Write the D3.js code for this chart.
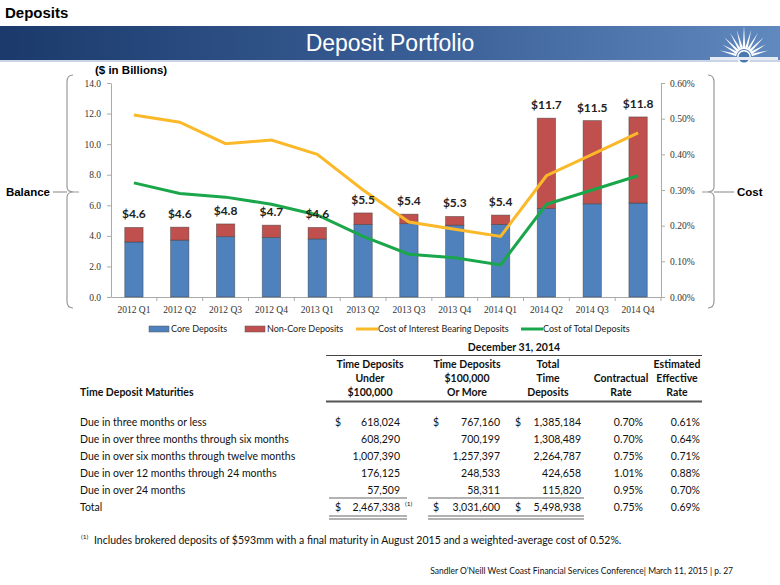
<!DOCTYPE html>
<html>
<head>
<meta charset="utf-8">
<script src="https://cdn.jsdelivr.net/npm/d3@7"></script>
<style>
  body { margin: 0; background: #fff; }
  svg { display: block; }
  .axis text { font-family: "Liberation Serif", serif; font-size: 9.5px; fill: #333; }
  .axis path, .axis line { stroke: #aaa; }
  .tbl { font-family: Lato, "Open Sans", sans-serif; font-size: 10.5px; fill: #111; }
</style>
</head>
<body>
<div id="chart"></div>
<script>
// chart data
const quarters = ["2012 Q1", "2012 Q2", "2012 Q3", "2012 Q4", "2013 Q1", "2013 Q2",
                  "2013 Q3", "2013 Q4", "2014 Q1", "2014 Q2", "2014 Q3", "2014 Q4"];
const coreDeposits    = [3.6, 3.72, 3.95, 3.9, 3.8, 4.75, 4.8, 4.7, 4.75, 5.8, 6.1, 6.15];
const nonCoreDeposits = [0.95, 0.85, 0.83, 0.8, 0.75, 0.75, 0.62, 0.57, 0.61, 5.9, 5.44, 5.63];
const balanceLabels = ["$4.6", "$4.6", "$4.8", "$4.7", "$4.6", "$5.5", "$5.4", "$5.3", "$5.4", "$11.7", "$11.5", "$11.8"];
const costInterestBearing = [0.51, 0.49, 0.43, 0.44, 0.40, 0.30, 0.21, 0.19, 0.17, 0.34, 0.40, 0.46];
const costTotal = [0.32, 0.29, 0.28, 0.26, 0.23, 0.17, 0.12, 0.11, 0.09, 0.26, 0.30, 0.34];
const balanceTicks = [0, 2, 4, 6, 8, 10, 12, 14];
const costTicks = [0, 0.1, 0.2, 0.3, 0.4, 0.5, 0.6];

// table data
const maturityLabels = ["Due in three months or less", "Due in over three months through six months",
  "Due in over six months through twelve months", "Due in over 12 months through 24 months", "Due in over 24 months"];
const under100k = [618024, 608290, 1007390, 176125, 57509];
const over100k = [767160, 700199, 1257397, 248533, 58311];
const totalTime = [1385184, 1308489, 2264787, 424658, 115820];
const contractualRate = [0.70, 0.70, 0.75, 1.01, 0.95];
const effectiveRate = [0.61, 0.64, 0.71, 0.88, 0.70];
const totalRow = [2467338, 3031600, 5498938, 0.75, 0.69];

const width = 780, height = 585;
const margins = { top: 83, bottom: 288, left: 111, right: 119 };
const colors = { core: "#4f81bd", nonCore: "#c0504d", ib: "#fbb829", total: "#1aa64a" };

const svg = d3.select("#chart").append("svg")
  .attr("width", width)
  .attr("height", height);

// header + banner
svg.append("text")
  .attr("x", 5).attr("y", 18)
  .style("font-family", "'Liberation Sans', Arial, sans-serif")
  .style("font-size", "15px").style("font-weight", "bold")
  .text("Deposits");

const grad = svg.append("defs").append("linearGradient").attr("id", "banner");
grad.append("stop").attr("offset", "0%").attr("stop-color", "#1b3a6b");
grad.append("stop").attr("offset", "55%").attr("stop-color", "#3a5f97");
grad.append("stop").attr("offset", "100%").attr("stop-color", "#6089bf");

svg.append("rect").attr("x", 0).attr("y", 26).attr("width", width).attr("height", 35).attr("fill", "url(#banner)");
svg.append("rect").attr("x", 0).attr("y", 60).attr("width", width).attr("height", 2).attr("fill", "#c9d5e6");

svg.append("text")
  .attr("x", 390).attr("y", 51)
  .attr("text-anchor", "middle")
  .style("font-family", "'Liberation Sans', Arial, sans-serif")
  .style("font-size", "23px").attr("fill", "#fff")
  .text("Deposit Portfolio");

// sunburst logo
const logo = svg.append("g").attr("transform", "translate(744,57)");
const rays = d3.range(11).map(i => -165 + i * 15);
logo.selectAll("path.ray")
  .data(rays)
  .join("path")
  .attr("class", "ray")
  .attr("fill", "#fff")
  .attr("d", a => {
    const r = Math.abs(a + 90) < 10 ? 31 : (Math.abs(a + 90) < 50 ? 28 : 25);
    const t = a * Math.PI / 180, w = 0.17;
    return `M${Math.cos(t - w) * 8},${Math.sin(t - w) * 8} L${Math.cos(t) * r},${Math.sin(t) * r} L${Math.cos(t + w) * 8},${Math.sin(t + w) * 8}Z`;
  });
logo.append("circle").attr("r", 7).attr("fill", "#fff");
logo.append("circle").attr("r", 5.5).attr("fill", "#4c76ae");
logo.append("rect").attr("x", -34).attr("y", 0).attr("width", 68).attr("height", 3).attr("fill", "#e4ebf4");

// chart
const x = d3.scaleBand()
  .domain(quarters)
  .range([margins.left, width - margins.right])
  .paddingInner(0.6)
  .paddingOuter(0.3);

const xOuter = d3.scaleBand().domain(quarters).range(x.range());

const yLeft = d3.scaleLinear().domain([0, 14]).range([height - margins.bottom, margins.top]);
const yRight = d3.scaleLinear().domain([0, 0.6]).range([height - margins.bottom, margins.top]);

const xAxisG = svg.append("g")
  .attr("class", "axis x-axis")
  .attr("transform", `translate(0,${yLeft(0)})`)
  .call(d3.axisBottom(xOuter).tickSize(0).tickPadding(9));
xAxisG.selectAll(".tick").filter((d, i) => i > 0).append("line")
  .attr("x1", -xOuter.bandwidth() / 2).attr("x2", -xOuter.bandwidth() / 2)
  .attr("y1", 0).attr("y2", 4);
xAxisG.append("line").attr("x1", xOuter.range()[1]).attr("x2", xOuter.range()[1]).attr("y1", 0).attr("y2", 4);

svg.append("g")
  .attr("class", "axis y-axis")
  .attr("transform", `translate(${margins.left},0)`)
  .call(d3.axisLeft(yLeft).tickValues(balanceTicks).tickSize(4).tickSizeOuter(0).tickPadding(6).tickFormat(d3.format(".1f")));

svg.append("g")
  .attr("class", "axis y-axis-right")
  .attr("transform", `translate(${xOuter.range()[1]},0)`)
  .call(d3.axisRight(yRight).tickValues(costTicks).tickSize(4).tickSizeOuter(0).tickPadding(5).tickFormat(d => d3.format(".2f")(d) + "%"));

const stackData = quarters.map((q, i) => ({ q, core: coreDeposits[i], nonCore: nonCoreDeposits[i] }));
const series = d3.stack().keys(["core", "nonCore"])(stackData);

svg.append("g").attr("class", "bars-container")
  .selectAll("g")
  .data(series)
  .join("g")
  .attr("fill", d => colors[d.key])
  .selectAll("rect")
  .data(d => d)
  .join("rect")
  .attr("x", d => x(d.data.q))
  .attr("y", d => yLeft(d[1]))
  .attr("height", d => yLeft(d[0]) - yLeft(d[1]))
  .attr("width", x.bandwidth())
  .attr("stroke", "#3b3b3b")
  .attr("stroke-opacity", 0.55)
  .attr("stroke-width", 0.8);

const line = d3.line()
  .x((d, i) => xOuter(quarters[i]) + xOuter.bandwidth() / 2)
  .y(d => yRight(d));

svg.append("path").datum(costInterestBearing)
  .attr("fill", "none").attr("stroke", colors.ib).attr("stroke-width", 3)
  .attr("d", line);
svg.append("path").datum(costTotal)
  .attr("fill", "none").attr("stroke", colors.total).attr("stroke-width", 3)
  .attr("d", line);

svg.append("g").selectAll("text")
  .data(stackData)
  .join("text")
  .attr("x", d => x(d.q) + x.bandwidth() / 2)
  .attr("y", d => yLeft(d.core + d.nonCore) - 9)
  .attr("text-anchor", "middle")
  .style("font-family", "Lato, sans-serif")
  .style("font-size", "12px").style("font-weight", "bold")
  .attr("fill", "#222")
  .text((d, i) => balanceLabels[i]);

// axis titles + braces
const boldArial = sel => sel.style("font-family", "'Liberation Sans', Arial, sans-serif").style("font-weight", "bold").style("font-size", "11.5px");
svg.append("text").attr("x", 95).attr("y", 74).call(boldArial).text("($ in Billions)");
svg.append("text").attr("x", 50).attr("y", 196).attr("text-anchor", "end").call(boldArial).text("Balance");
svg.append("text").attr("x", 737).attr("y", 196).call(boldArial).text("Cost");

const brace = (x0, dir) => {
  const xm = x0 + dir * 6, cy = 192;
  return `M${x0},75 Q${xm},75 ${xm},82 L${xm},${cy - 5} Q${xm},${cy} ${x0 - dir * 1},${cy} L${x0 - dir * 6},${cy}` +
    ` M${x0 - dir * 1},${cy} Q${xm},${cy} ${xm},${cy + 5} L${xm},301 Q${xm},308 ${x0},308`;
};
svg.append("path").attr("d", brace(73, -1)).attr("fill", "none").attr("stroke", "#999").attr("stroke-width", 1.2);
svg.append("path").attr("d", brace(708, 1)).attr("fill", "none").attr("stroke", "#999").attr("stroke-width", 1.2);
svg.append("line").attr("x1", 53).attr("x2", 67).attr("y1", 192).attr("y2", 192).attr("stroke", "#999").attr("stroke-width", 1.2);
svg.append("line").attr("x1", 714).attr("x2", 734).attr("y1", 192).attr("y2", 192).attr("stroke", "#999").attr("stroke-width", 1.2);

// legend
const legendItems = [
  { label: "Core Deposits", color: colors.core, type: "rect", x: 149 },
  { label: "Non-Core Deposits", color: colors.nonCore, type: "rect", x: 245 },
  { label: "Cost of Interest Bearing Deposits", color: colors.ib, type: "line", x: 356 },
  { label: "Cost of Total Deposits", color: colors.total, type: "line", x: 521 }
];
const legend = svg.append("g").attr("class", "legend")
  .selectAll("g").data(legendItems).join("g")
  .attr("transform", d => `translate(${d.x},329)`);
legend.filter(d => d.type === "rect").append("rect")
  .attr("x", 0).attr("y", -3).attr("width", 20).attr("height", 6)
  .attr("fill", d => d.color).attr("stroke", "#555").attr("stroke-width", 0.5);
legend.filter(d => d.type === "line").append("line")
  .attr("x1", 0).attr("x2", 22).attr("y1", 0).attr("y2", 0)
  .attr("stroke", d => d.color).attr("stroke-width", 3);
legend.append("text")
  .attr("x", 22).attr("y", 3)
  .style("font-family", "Lato, sans-serif").style("font-size", "9px").attr("fill", "#222")
  .text(d => d.label);

// table
const tbl = svg.append("g").attr("class", "tbl");
const fmt = d3.format(",");
const pct = d => d.toFixed(2) + "%";

tbl.append("text").attr("x", 514).attr("y", 351).attr("text-anchor", "middle").style("font-weight", "bold").text("December 31, 2014");
tbl.append("line").attr("x1", 326).attr("x2", 702).attr("y1", 355.5).attr("y2", 355.5).attr("stroke", "#444");

const headers = [
  { x: 370, lines: ["Time Deposits", "Under", "$100,000"] },
  { x: 467, lines: ["Time Deposits", "$100,000", "Or More"] },
  { x: 548, lines: ["Total", "Time", "Deposits"] },
  { x: 621, lines: ["", "Contractual", "Rate"] },
  { x: 677, lines: ["Estimated", "Effective", "Rate"] }
];
headers.forEach(h => {
  h.lines.forEach((t, i) => {
    tbl.append("text").attr("x", h.x).attr("y", 368 + i * 14).attr("text-anchor", "middle")
      .style("font-weight", "bold").text(t);
  });
});
tbl.append("text").attr("x", 80).attr("y", 396).style("font-weight", "bold").text("Time Deposit Maturities");
tbl.append("line").attr("x1", 326).attr("x2", 702).attr("y1", 401.5).attr("y2", 401.5).attr("stroke", "#555").attr("stroke-width", 2);

const rowY = d3.scalePoint().domain(d3.range(6)).range([426, 511]);
const colRight = [400, 500, 581, 643, 700];

maturityLabels.forEach((label, i) => {
  const y = rowY(i);
  tbl.append("text").attr("x", 80).attr("y", y).text(label);
  [fmt(under100k[i]), fmt(over100k[i]), fmt(totalTime[i]), pct(contractualRate[i]), pct(effectiveRate[i])]
    .forEach((v, j) => tbl.append("text").attr("x", colRight[j]).attr("y", y).attr("text-anchor", "end").text(v));
  if (i === 0) {
    [335, 433, 515].forEach(dx => tbl.append("text").attr("x", dx).attr("y", y).text("$"));
  }
});

const ty = rowY(5);
tbl.append("text").attr("x", 80).attr("y", ty).text("Total");
[fmt(totalRow[0]), fmt(totalRow[1]), fmt(totalRow[2]), pct(totalRow[3]), pct(totalRow[4])]
  .forEach((v, j) => tbl.append("text").attr("x", colRight[j]).attr("y", ty).attr("text-anchor", "end").text(v));
[335, 433, 515].forEach(dx => tbl.append("text").attr("x", dx).attr("y", ty).text("$"));
tbl.append("text").attr("x", 405).attr("y", ty - 5).style("font-size", "6.5px").text("(1)");

const ruleSpans = [[329, 407], [428, 584]];
ruleSpans.forEach(([a, b]) => {
  tbl.append("line").attr("x1", a).attr("x2", b).attr("y1", 498).attr("y2", 498).attr("stroke", "#666").attr("stroke-width", 1.2);
  tbl.append("line").attr("x1", a).attr("x2", b).attr("y1", 516).attr("y2", 516).attr("stroke", "#666").attr("stroke-width", 1.2);
  tbl.append("line").attr("x1", a).attr("x2", b).attr("y1", 519).attr("y2", 519).attr("stroke", "#666").attr("stroke-width", 1.2);
});

// footnote
tbl.append("text").attr("x", 81).attr("y", 539).style("font-size", "6.5px").text("(1)");
tbl.append("text").attr("x", 94).attr("y", 544)
  .text("Includes brokered deposits of $593mm with a final maturity in August 2015 and a weighted-average cost of 0.52%.");
tbl.append("text").attr("x", 733).attr("y", 574).attr("text-anchor", "end").style("font-size", "8.5px")
  .text("Sandler O\u2019Neill West Coast Financial Services Conference| March 11, 2015 | p. 27");
</script>
</body>
</html>
